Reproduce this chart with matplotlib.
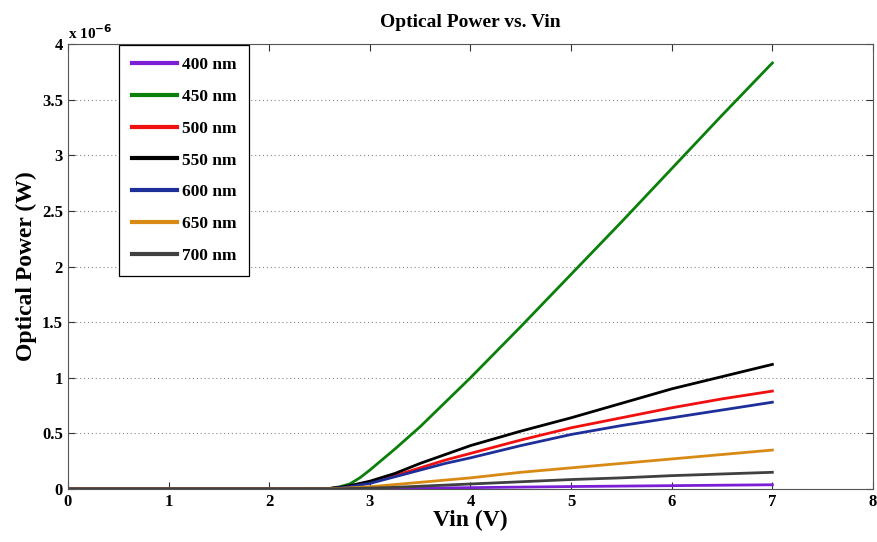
import numpy as np
import matplotlib.pyplot as plt
from matplotlib.ticker import FuncFormatter

plt.rcParams['font.family'] = ['Liberation Serif', 'DejaVu Serif']
plt.rcParams['font.weight'] = 'bold'

vin = [0, 1, 2, 2.4, 2.6, 2.7, 2.8, 2.9, 3.0, 3.25, 3.5, 3.75, 4.0, 4.5, 5.0, 5.5, 6.0, 6.5, 7.0]

# optical power in units of 1e-6 W
p400 = [0, 0, 0, 0, 0, 0.001, 0.002, 0.003, 0.004, 0.006, 0.008, 0.01, 0.012, 0.017, 0.022, 0.026, 0.03, 0.034, 0.038]
p450 = [0, 0, 0, 0.001, 0.005, 0.02, 0.045, 0.1, 0.17, 0.36, 0.56, 0.78, 1.0, 1.46, 1.93, 2.4, 2.88, 3.36, 3.83]
p500 = [0, 0, 0, 0, 0.004, 0.012, 0.025, 0.04, 0.06, 0.12, 0.19, 0.26, 0.32, 0.44, 0.55, 0.64, 0.73, 0.81, 0.88]
p550 = [0, 0, 0, 0, 0.005, 0.015, 0.03, 0.05, 0.07, 0.14, 0.23, 0.31, 0.39, 0.52, 0.64, 0.77, 0.9, 1.01, 1.12]
p600 = [0, 0, 0, 0, 0.003, 0.01, 0.02, 0.035, 0.05, 0.11, 0.17, 0.23, 0.28, 0.39, 0.49, 0.57, 0.64, 0.71, 0.78]
p650 = [0, 0, 0, 0, 0.002, 0.005, 0.01, 0.015, 0.02, 0.04, 0.06, 0.08, 0.1, 0.15, 0.19, 0.23, 0.27, 0.31, 0.35]
p700 = [0, 0, 0, 0, 0.001, 0.002, 0.004, 0.006, 0.008, 0.015, 0.025, 0.035, 0.045, 0.065, 0.085, 0.1, 0.12, 0.135, 0.15]

labels = ['400 nm', '450 nm', '500 nm', '550 nm', '600 nm', '650 nm', '700 nm']
series = [p400, p450, p500, p550, p600, p650, p700]
colors = ['#7a1fd6', '#0a800a', '#f01010', '#000000', '#1f2f9a', '#d98a14', '#404040']

fig = plt.figure(figsize=(8.78, 5.42), dpi=100)
ax = fig.add_axes([0.0774, 0.0978, 0.9169, 0.821])

for y, lab, c in zip(series, labels, colors):
    ax.plot(vin, np.array(y) * 1e-6, color=c, lw=2.0, label=lab)

ax.set_xlim(0, 8)
ax.set_ylim(0, 4e-6)
ax.set_xticks(range(9))
ax.set_yticks(np.arange(0, 4.01, 0.5) * 1e-6)
ax.yaxis.set_major_formatter(FuncFormatter(lambda v, p: '%g' % round(v * 1e6, 2)))
ax.tick_params(direction='in', top=True, right=True, labelsize=12, length=5, color='#333333')
for lbl in ax.get_xticklabels() + ax.get_yticklabels():
    lbl.set_fontweight('bold')
for s in ax.spines.values():
    s.set_color('#555555')
ax.yaxis.grid(True, linestyle=(0, (1, 2.5)), color='#888888', lw=0.8)

ax.text(0.0, 1.005, 'x 10$^{-6}$', transform=ax.transAxes, fontsize=11, ha='left', va='bottom')
ax.set_title('Optical Power vs. Vin', fontsize=14, fontweight='bold', pad=12)
ax.set_xlabel('Vin (V)', fontsize=17, fontweight='bold', labelpad=0)
ax.set_ylabel('Optical Power (W)', fontsize=17, fontweight='bold', labelpad=4)

leg = ax.legend(loc='upper left', bbox_to_anchor=(0.064, 0.998), fontsize=12.5, fancybox=False,
                edgecolor='black', framealpha=1, handlelength=2.6, labelspacing=0.9,
                borderpad=0.7, handletextpad=0.3, borderaxespad=0)
leg.get_frame().set_linewidth(0.9)
for line in leg.get_lines():
    line.set_linewidth(3)

fig.savefig('out.png', dpi=100)
